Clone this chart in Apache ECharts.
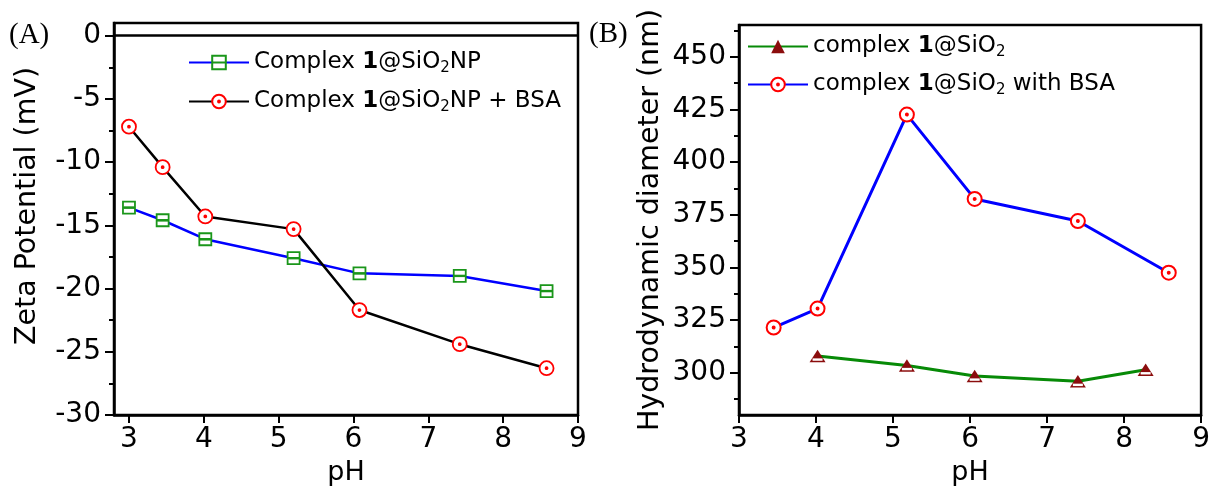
<!DOCTYPE html>
<html>
<head>
<meta charset="utf-8">
<script src="https://cdn.jsdelivr.net/npm/echarts@6/dist/echarts.min.js"></script>
<style>
html,body{margin:0;padding:0;background:#fff;}
#chart{width:1213px;height:491px;}
</style>
</head>
<body>
<div id="chart"></div>
<script>
// ---- Panel A data ----
const phA = [3.0, 3.45, 4.02, 5.2, 6.08, 7.42, 8.58];
const zetaNP = [-13.6, -14.6, -16.1, -17.6, -18.8, -19.0, -20.2];
const zetaNPBSA = [-7.2, -10.4, -14.3, -15.3, -21.7, -24.4, -26.3];
const ticksXA = [3, 4, 5, 6, 7, 8, 9];
const ticksYA = [-30, -25, -20, -15, -10, -5, 0];
const minorYA = [-27.5, -22.5, -17.5, -12.5, -7.5, -2.5];

// ---- Panel B data ----
const phB_NP = [4.02, 5.18, 6.06, 7.4, 8.28];
const diamNP = [308, 303.5, 298.5, 296, 301.5];
const phB_BSA = [3.45, 4.02, 5.18, 6.06, 7.4, 8.58];
const diamBSA = [321.5, 330.5, 422.5, 382.5, 372, 347.5];
const ticksXB = [3, 4, 5, 6, 7, 8, 9];
const ticksYB = [300, 325, 350, 375, 400, 425, 450];
const minorYB = [287.5, 312.5, 337.5, 362.5, 387.5, 412.5, 437.5, 462.5];

const FONT = "'DejaVu Sans', 'Liberation Sans', Arial, sans-serif";
const zip = (xs, ys) => xs.map((x, i) => [x, ys[i]]);

const SQ = 'path://M0,0L10,0L10,5L0,5ZM0,5L10,5L10,10L0,10Z';
const CIRC = 'path://M10,5A5,5 0 1 1 0,5A5,5 0 1 1 10,5ZM5.7,5A0.7,0.7 0 1 1 4.3,5A0.7,0.7 0 1 1 5.7,5Z';
const TRI = 'path://M5,0L10,9L0,9Z';

function xAxisCfg(grid, min, ticks) {
  return {
    type: 'value', gridIndex: grid, min: min, max: 9,
    axisLine: {show: true, onZero: false, lineStyle: {color: '#000', width: 2.5}},
    axisTick: {show: true, inside: false, length: 8, customValues: ticks, lineStyle: {color: '#000', width: 2}},
    axisLabel: {customValues: ticks, color: '#000', fontSize: 28, fontFamily: FONT, margin: 11},
    splitLine: {show: false},
    name: 'pH', nameLocation: 'middle', nameGap: 44,
    nameTextStyle: {color: '#000', fontSize: 27, fontFamily: FONT}
  };
}
function yAxisMajor(grid, min, max, ticks, name, gap, pad) {
  return {
    type: 'value', gridIndex: grid, min: min, max: max, position: 'left',
    axisLine: {show: true, onZero: false, lineStyle: {color: '#000', width: 2.5}},
    axisTick: {show: true, inside: false, length: 9, customValues: ticks, lineStyle: {color: '#000', width: 2}},
    axisLabel: {customValues: ticks, color: '#000', fontSize: 28, fontFamily: FONT, margin: 13},
    splitLine: {show: false},
    name: name, nameLocation: 'middle', nameGap: gap, nameRotate: 90,
    nameTextStyle: {color: '#000', fontSize: 28.5, fontFamily: FONT, padding: pad}
  };
}
function yAxisMinor(grid, min, max, ticks) {
  return {
    type: 'value', gridIndex: grid, min: min, max: max, position: 'left',
    axisLine: {show: false},
    axisTick: {show: true, inside: false, length: 5, customValues: ticks, lineStyle: {color: '#000', width: 2}},
    axisLabel: {show: false},
    splitLine: {show: false}
  };
}

const names = {
  npA: 'Complex 1@SiO2NP',
  bsaA: 'Complex 1@SiO2NP + BSA',
  npB: 'complex 1@SiO2',
  bsaB: 'complex 1@SiO2 with BSA'
};
const richNames = {};
richNames[names.npA] = 'Complex {b|1}@SiO{s|2}NP';
richNames[names.bsaA] = 'Complex {b|1}@SiO{s|2}NP + BSA';
richNames[names.npB] = 'complex {b|1}@SiO{s|2}';
richNames[names.bsaB] = 'complex {b|1}@SiO{s|2} with BSA';

const legendText = {
  color: '#000', fontSize: 23, fontFamily: FONT,
  rich: {
    b: {fontSize: 23, fontWeight: 'bold', fontFamily: FONT, color: '#000'},
    s: {fontSize: 15, fontFamily: FONT, color: '#000', padding: [12, 0, 0, 0]}
  }
};

const option = {
  backgroundColor: '#fff',
  animation: false,
  grid: [
    {left: 114, top: 23, width: 464, height: 393, show: true, borderColor: '#000', borderWidth: 2.5, containLabel: false},
    {left: 739, top: 25, width: 463, height: 393, show: true, borderColor: '#000', borderWidth: 2.5, containLabel: false}
  ],
  xAxis: [xAxisCfg(0, 2.8, ticksXA), xAxisCfg(1, 3, ticksXB)],
  yAxis: [
    yAxisMajor(0, -30, 1, ticksYA, 'Zeta Potential (mV)', 72, [0, 0, 0, 26]),
    yAxisMinor(0, -30, 1, minorYA),
    yAxisMajor(1, 280, 465, ticksYB, 'Hydrodynamic diameter (nm)', 74, 0),
    yAxisMinor(1, 280, 465, minorYB)
  ],
  legend: [
    {
      orient: 'vertical', left: 183, top: 46, itemWidth: 60, itemHeight: 17, itemGap: 14,
      data: [names.npA, names.bsaA], formatter: n => richNames[n], textStyle: legendText
    },
    {
      orient: 'vertical', left: 742, top: 30, itemWidth: 60, itemHeight: 17, itemGap: 13,
      data: [names.npB, names.bsaB], formatter: n => richNames[n], textStyle: legendText
    }
  ],
  graphic: [
    {type: 'text', left: 9, top: 21, style: {text: '(A)', font: "29px 'Liberation Serif', 'Times New Roman', serif", fill: '#000'}},
    {type: 'text', left: 589, top: 20, style: {text: '(B)', font: "29px 'Liberation Serif', 'Times New Roman', serif", fill: '#000'}}
  ],
  series: [
    {
      name: names.npA, type: 'line', xAxisIndex: 0, yAxisIndex: 0,
      data: zip(phA, zetaNP),
      symbol: SQ, symbolSize: 12, symbolKeepAspect: true,
      lineStyle: {color: '#0000ff', width: 2.5},
      itemStyle: {color: '#fff', borderColor: '#1a961a', borderWidth: 1.8},
      z: 3,
      markLine: {
        silent: true, symbol: 'none', label: {show: false},
        lineStyle: {color: '#000', width: 2.5, type: 'solid'},
        data: [{yAxis: 0}]
      }
    },
    {
      // centre bar of the square markers
      name: 'npA-bar', type: 'scatter', xAxisIndex: 0, yAxisIndex: 0,
      data: zip(phA, zetaNP),
      symbol: 'rect', symbolSize: [11, 2.4],
      itemStyle: {color: '#1a961a', opacity: 1}, z: 10, silent: true
    },
    {
      name: names.bsaA, type: 'line', xAxisIndex: 0, yAxisIndex: 0,
      data: zip(phA, zetaNPBSA),
      symbol: CIRC, symbolSize: 14, symbolKeepAspect: true,
      lineStyle: {color: '#000', width: 2.5},
      itemStyle: {color: '#fff', borderColor: '#ff0000', borderWidth: 1.8},
      z: 3
    },
    {
      name: names.npB, type: 'line', xAxisIndex: 1, yAxisIndex: 2,
      data: zip(phB_NP, diamNP),
      symbol: TRI, symbolSize: [16, 14], symbolKeepAspect: true,
      lineStyle: {color: '#078a07', width: 3},
      itemStyle: {color: '#8b0d0d', borderWidth: 0},
      z: 3
    },
    {
      // white bar inside the triangle markers
      name: 'npB-bar', type: 'scatter', xAxisIndex: 1, yAxisIndex: 2,
      data: zip(phB_NP, diamNP),
      symbol: 'rect', symbolSize: [10, 2.4], symbolOffset: [0, 3.6],
      itemStyle: {color: '#ffffff', opacity: 1}, z: 10, silent: true
    },
    {
      name: names.bsaB, type: 'line', xAxisIndex: 1, yAxisIndex: 2,
      data: zip(phB_BSA, diamBSA),
      symbol: CIRC, symbolSize: 14, symbolKeepAspect: true,
      lineStyle: {color: '#0000ff', width: 3},
      itemStyle: {color: '#fff', borderColor: '#ff0000', borderWidth: 2},
      z: 3
    }
  ]
};

const chart = echarts.init(document.getElementById('chart'), null, {renderer: 'canvas'});
chart.setOption(option);
</script>
</body>
</html>
